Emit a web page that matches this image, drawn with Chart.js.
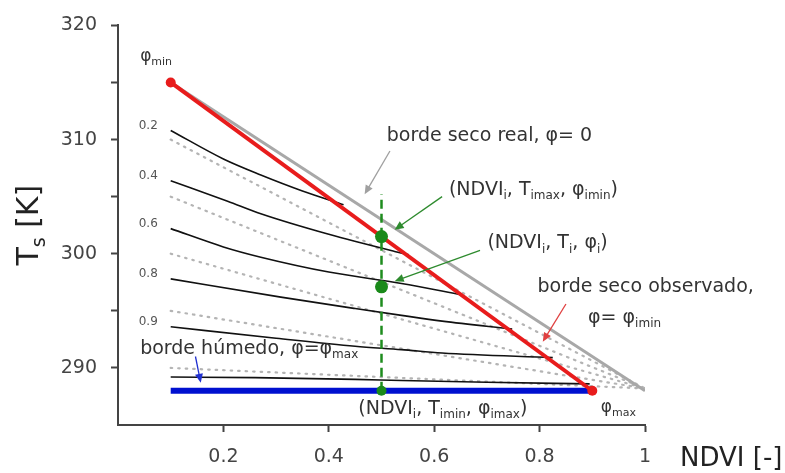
<!DOCTYPE html>
<html>
<head>
<meta charset="utf-8">
<script src="https://cdn.jsdelivr.net/npm/chart.js@4"></script>
<style>
  body { margin: 0; background: #fff; }
  #wrap { width: 785px; height: 473px; }
</style>
</head>
<body>
<div id="wrap"><canvas id="ndviChart" width="785" height="473"></canvas></div>
<script>
// axis limits / ticks
const ndviMin = 0, ndviMax = 1, ndviStep = 0.2;
const tsMin = 285, tsMax = 320, tsStep = 5;
const tsLabelled = [290, 300, 310, 320];

// edges (NDVI, Ts)
const realDryNdvi = [0.1, 1.0];
const realDryTs = [315, 288];
const obsDryNdvi = [0.1, 0.9];
const obsDryTs = [315, 288];
const wetNdvi = [0.1, 0.9];
const wetTs = [288, 288];

// black isolines of phi
const isoNames = ['0.2', '0.4', '0.6', '0.8', '0.9', ''];
const isoNdvi = [
    [0.1, 0.2, 0.271, 0.35, 0.428],
    [0.1, 0.208, 0.271, 0.4, 0.525, 0.552],
    [0.1, 0.2, 0.271, 0.4, 0.538, 0.653],
    [0.1, 0.309, 0.45, 0.538, 0.615, 0.748],
    [0.1, 0.3, 0.45, 0.538, 0.615, 0.825],
    [0.1, 0.26, 0.45, 0.538, 0.7, 0.895]
];
const isoTs = [
    [310.8, 308.3, 306.9, 305.5, 304.3],
    [306.4, 304.6, 303.5, 301.7, 300.2, 299.9],
    [302.2, 300.6, 299.7, 298.4, 297.4, 296.4],
    [297.8, 296.2, 295.2, 294.6, 294.1, 293.4],
    [293.6, 292.6, 291.9, 291.6, 291.3, 290.9],
    [289.2, 289.15, 289.0, 288.9, 288.75, 288.6]
];

// dotted straight lines, all ending in the same corner
const dottedStartNdvi = 0.1;
const dottedStartTs = [310, 305, 300, 295, 290];
const dottedEndNdvi = 1.0;
const dottedEndTs = 288.2;

// pixel i
const pixelNdvi = 0.5;
const pixelLineTs = [288, 305.2];
const pixelPointTs = [288, 297.1, 301.5];

// annotations, anchored in data units
const notes = [
    { x: 0.042, y: 317.3, size: 17, parts: [['φ'], ['min', 1]] },
    { x: 0.510, y: 310.35, size: 19, parts: [['borde seco real, φ= 0']] },
    { x: 0.628, y: 305.6, size: 19, parts: [['(NDVI'], ['i', 1], [', T'], ['imax', 1], [', φ'], ['imin', 1], [')']] },
    { x: 0.701, y: 300.9, size: 19, parts: [['(NDVI'], ['i', 1], [', T'], ['i', 1], [', φ'], ['i', 1], [')']] },
    { x: 0.796, y: 297.1, size: 19, parts: [['borde seco observado,']] },
    { x: 0.892, y: 294.35, size: 19, parts: [['φ= φ'], ['imin', 1]] },
    { x: 0.042, y: 291.65, size: 19, parts: [['borde húmedo, φ=φ'], ['max', 1]] },
    { x: 0.456, y: 286.4, size: 19, parts: [['(NDVI'], ['i', 1], [', T'], ['imin', 1], [', φ'], ['imax', 1], [')']] },
    { x: 0.916, y: 286.5, size: 17, parts: [['φ'], ['max', 1]] }
];
const arrows = [
    { from: [0.516, 309.0], to: [0.468, 305.2], color: '#a0a0a0' },
    { from: [0.615, 305.0], to: [0.525, 302.1], color: '#2e8b2e' },
    { from: [0.687, 300.3], to: [0.525, 297.6], color: '#2e8b2e' },
    { from: [0.850, 295.6], to: [0.806, 292.3], color: '#e04040' },
    { from: [0.147, 291.0], to: [0.157, 288.7], color: '#2030d0' }
];

const FONT = '"DejaVu Sans", Verdana, sans-serif';
const TEXT = '#333';

function pts (xs, ys) {
    return xs.map((v, i) => ({ x: v, y: ys[i] }));
}

// text with subscripts
function drawRich (ctx, parts, x, y, size, color, align) {
    const subSize = Math.round(size * 0.62);
    let total = 0;
    const widths = parts.map(p => {
        ctx.font = (p[1] ? subSize : size) + 'px ' + FONT;
        const w = ctx.measureText(p[0]).width;
        total += w;
        return w;
    });
    let cx = align === 'center' ? x - total / 2 : x;
    ctx.fillStyle = color;
    ctx.textAlign = 'left';
    ctx.textBaseline = 'middle';
    parts.forEach((p, i) => {
        ctx.font = (p[1] ? subSize : size) + 'px ' + FONT;
        ctx.fillText(p[0], cx, p[1] ? y + size * 0.32 : y);
        cx += widths[i];
    });
}

function drawArrow (ctx, x1, y1, x2, y2, color) {
    const ang = Math.atan2(y2 - y1, x2 - x1);
    ctx.strokeStyle = color;
    ctx.fillStyle = color;
    ctx.lineWidth = 1.3;
    ctx.beginPath();
    ctx.moveTo(x1, y1);
    ctx.lineTo(x2 - 6 * Math.cos(ang), y2 - 6 * Math.sin(ang));
    ctx.stroke();
    ctx.beginPath();
    ctx.moveTo(x2, y2);
    ctx.lineTo(x2 - 9 * Math.cos(ang) + 4 * Math.sin(ang), y2 - 9 * Math.sin(ang) - 4 * Math.cos(ang));
    ctx.lineTo(x2 - 9 * Math.cos(ang) - 4 * Math.sin(ang), y2 - 9 * Math.sin(ang) + 4 * Math.cos(ang));
    ctx.closePath();
    ctx.fill();
}

const notesPlugin = {
    id: 'notes',
    afterDatasetsDraw (chart) {
        const { ctx, scales: { x, y } } = chart;
        ctx.save();
        arrows.forEach(a => drawArrow(ctx,
            x.getPixelForValue(a.from[0]), y.getPixelForValue(a.from[1]),
            x.getPixelForValue(a.to[0]), y.getPixelForValue(a.to[1]), a.color));
        notes.forEach(n => drawRich(ctx, n.parts,
            x.getPixelForValue(n.x), y.getPixelForValue(n.y), n.size, TEXT, 'left'));
        // isoline labels next to each curve start
        isoNames.forEach((name, i) => {
            if (!name) return;
            ctx.font = '12px ' + FONT;
            ctx.fillStyle = '#555';
            ctx.textAlign = 'left';
            ctx.textBaseline = 'middle';
            ctx.fillText(name, x.getPixelForValue(isoNdvi[i][0]) - 32, y.getPixelForValue(isoTs[i][0]) - 5);
        });
        // axis titles
        drawRich(ctx, [['NDVI [-]']], x.right + 35, x.bottom - 14, 26, '#222', 'left');
        ctx.translate(30, (y.top + y.bottom) / 2);
        ctx.rotate(-Math.PI / 2);
        drawRich(ctx, [['T'], ['s', 1], [' [K]']], 0, 0, 30, '#222', 'center');
        ctx.restore();
    }
};

const datasets = [];
dottedStartTs.forEach(t => datasets.push({
    data: pts([dottedStartNdvi, dottedEndNdvi], [t, dottedEndTs]),
    borderColor: '#b4b4b4', borderWidth: 2.2, borderDash: [1.5, 6], borderCapStyle: 'round',
    pointRadius: 0, order: 6
}));
isoNdvi.forEach((xs, i) => datasets.push({
    data: pts(xs, isoTs[i]),
    borderColor: '#111', borderWidth: 1.6, cubicInterpolationMode: 'monotone',
    pointRadius: 0, order: 5
}));
datasets.push({
    data: pts(realDryNdvi, realDryTs),
    borderColor: '#a8a8a8', borderWidth: 3, pointRadius: 0, order: 4
});
datasets.push({
    data: pts(wetNdvi, wetTs),
    borderColor: '#0010d0', borderWidth: 6, pointRadius: 0, order: 3
});
datasets.push({
    data: pts(obsDryNdvi, obsDryTs),
    borderColor: '#e81c1c', borderWidth: 4,
    pointRadius: 5, pointBackgroundColor: '#e81c1c', pointBorderWidth: 0, order: 2
});
datasets.push({
    data: pts([pixelNdvi, pixelNdvi], pixelLineTs),
    borderColor: '#1e8c1e', borderWidth: 2.5, borderDash: [9, 5],
    pointRadius: 0, order: 1
});
datasets.push({
    data: pts(pixelPointTs.map(() => pixelNdvi), pixelPointTs),
    showLine: false, pointRadius: [5, 6.5, 6.5],
    pointBackgroundColor: '#1a8a1a', pointBorderWidth: 0, order: 0
});

const config = {
    type: 'line',
    data: { datasets: datasets },
    options: {
        responsive: false,
        animation: false,
        layout: { padding: { top: 22, right: 140, left: 0, bottom: 0 } },
        plugins: { legend: { display: false }, tooltip: { enabled: false } },
        scales: {
            x: {
                type: 'linear', min: ndviMin, max: ndviMax,
                afterFit: s => { s.height = 48; },
                border: { color: '#444', width: 2 },
                grid: {
                    drawOnChartArea: false, tickLength: 7, tickWidth: 2,
                    tickColor: c => (c.tick && Math.abs(c.tick.value) < 1e-9) ? 'rgba(0,0,0,0)' : '#444'
                },
                ticks: {
                    stepSize: ndviStep, padding: 14, color: '#444',
                    font: { family: 'DejaVu Sans', size: 19 },
                    callback: v => Math.abs(v) < 1e-9 ? '' : (Math.abs(v - 1) < 1e-9 ? '1' : Number(v).toFixed(1))
                }
            },
            y: {
                type: 'linear', min: tsMin, max: tsMax,
                afterFit: s => { s.width = 118; },
                border: { color: '#444', width: 2 },
                grid: {
                    drawOnChartArea: false, tickLength: 7, tickWidth: 2,
                    tickColor: c => (c.tick && c.tick.value === tsMin) ? 'rgba(0,0,0,0)' : '#444'
                },
                ticks: {
                    stepSize: tsStep, padding: 14, color: '#444',
                    font: { family: 'DejaVu Sans', size: 19 },
                    callback: v => tsLabelled.includes(v) ? String(v) : ''
                }
            }
        }
    },
    plugins: [notesPlugin]
};

const myChart = new Chart(document.getElementById('ndviChart'), config);
</script>
</body>
</html>
